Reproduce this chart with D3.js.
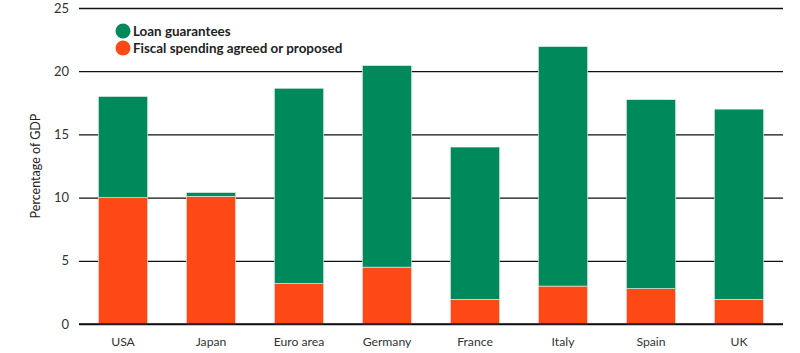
<!DOCTYPE html>
<html>
<head>
<meta charset="utf-8">
<script src="https://cdn.jsdelivr.net/npm/d3@7"></script>
<style>
  body { margin: 0; background: #fff; }
  svg text { font-family: Lato, "Open Sans", sans-serif; fill: #222; }
</style>
</head>
<body>
<div id="chart-area"></div>
<script>
// data
var countries = ["USA", "Japan", "Euro area", "Germany", "France", "Italy", "Spain", "UK"];
var fiscal = [10, 10.1, 3.2, 4.5, 1.95, 3.0, 2.8, 1.95];
var totals = [18, 10.4, 18.65, 20.45, 14.0, 21.95, 17.75, 17.0];
var yTicks = [0, 5, 10, 15, 20, 25];

var seriesNames = ["Loan guarantees", "Fiscal spending agreed or proposed"];
var colors = ["#00895b", "#fd4915"];

var width = 800, height = 353;
var margin = {top: 8, right: 17, bottom: 29, left: 79};

var svg = d3.select("#chart-area").append("svg")
	.attr("width", width)
	.attr("height", height);

var g = svg.append("g")
	.attr("transform", "translate(" + margin.left + "," + margin.top + ")");

var w = width - margin.left - margin.right,
	h = height - margin.top - margin.bottom;

var x = d3.scaleBand()
	.domain(countries)
	.range([0, w])
	.paddingInner(0.44)
	.paddingOuter(0.22);

var y = d3.scaleLinear()
	.domain([0, 25])
	.range([h, 0]);

// gridlines
var yAxis = d3.axisLeft(y).tickValues(yTicks).tickSize(-w).tickPadding(10);
var ya = g.append("g").call(yAxis);
ya.select(".domain").remove();
ya.selectAll(".tick line").attr("stroke", "#111").attr("stroke-width", 1.3);
ya.selectAll(".tick text").attr("font-size", 13).style("fill", "#333");

// stacked bars
var rows = countries.map(function(c, i) {
	return {country: c, fiscal: fiscal[i], loans: totals[i] - fiscal[i]};
});
var stack = d3.stack().keys(["fiscal", "loans"])(rows);
var fill = {fiscal: colors[1], loans: colors[0]};

g.selectAll(".layer")
	.data(stack)
	.enter().append("g")
	.attr("class", "layer")
	.attr("fill", function(d) { return fill[d.key]; })
	.selectAll("rect")
	.data(function(d) { return d; })
	.enter().append("rect")
	.attr("x", function(d) { return x(d.data.country); })
	.attr("y", function(d) { return y(d[1]); })
	.attr("width", x.bandwidth())
	.attr("height", function(d) { return y(d[0]) - y(d[1]); })
	.attr("stroke", "#e8f2ec")
	.attr("stroke-width", 0.6);

// baseline over bars
g.append("line")
	.attr("x1", 0).attr("x2", w)
	.attr("y1", y(0)).attr("y2", y(0))
	.attr("stroke", "#111").attr("stroke-width", 1.3);

// x axis labels
var xAxis = d3.axisBottom(x).tickSize(0).tickPadding(13);
var xa = g.append("g").attr("transform", "translate(0," + h + ")").call(xAxis);
xa.select(".domain").remove();
xa.selectAll(".tick text").attr("font-size", 12.2).style("fill", "#333");

// y label
svg.append("text")
	.attr("transform", "translate(40," + (margin.top + h / 2) + ") rotate(-90)")
	.attr("text-anchor", "middle")
	.attr("font-size", 12.5)
	.text("Percentage of GDP");

// legend
var legend = svg.append("g").attr("transform", "translate(123,31)");
seriesNames.forEach(function(s, i) {
	var row = legend.append("g").attr("transform", "translate(0," + (i * 17) + ")");
	row.append("circle").attr("r", 7.5).attr("fill", colors[i]);
	row.append("text")
		.attr("x", 10).attr("dy", "0.35em")
		.attr("font-size", 13.4)
		.attr("font-weight", "bold")
		.text(s);
});
</script>
</body>
</html>
